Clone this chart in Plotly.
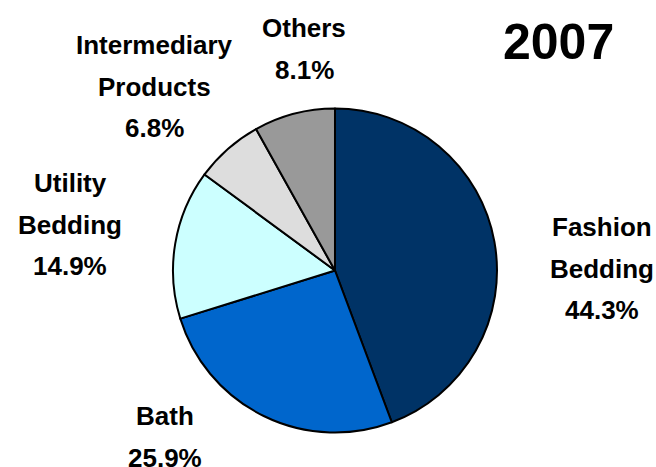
import plotly.graph_objects as go

# Product mix, 2007
categories = ["Fashion Bedding", "Bath", "Utility Bedding", "Intermediary Products", "Others"]
shares = [44.3, 25.9, 14.9, 6.8, 8.1]
colors = ["#003366", "#0066CC", "#CCFFFF", "#DDDDDD", "#999999"]
label_lines = [["Fashion", "Bedding"], ["Bath"], ["Utility", "Bedding"],
               ["Intermediary", "Products"], ["Others"]]
year = "2007"

W, H = 656, 467

fig = go.Figure(go.Pie(
    labels=categories,
    values=shares,
    sort=False,
    direction="clockwise",
    rotation=0,
    textinfo="none",
    hoverinfo="label+percent",
    marker=dict(colors=colors, line=dict(color="black", width=2)),
    domain=dict(x=[0.2637, 0.7576], y=[0.0728, 0.7687]),
    showlegend=False,
))

# label block anchors (pixel centre of first line)
anchors = [(602, 227), (165, 416), (70, 183), (154, 45), (304, 28)]
step = 41.5
font = dict(family="Liberation Sans, Arial, sans-serif", size=26, color="black")

annotations = []
for lines, share, (ax, ay) in zip(label_lines, shares, anchors):
    for i, txt in enumerate(lines + [f"{share:.1f}%"]):
        annotations.append(dict(
            x=ax / W, y=1 - (ay + i * step) / H, xref="paper", yref="paper",
            text=f"<b>{txt}</b>", showarrow=False, font=font,
            xanchor="center", yanchor="middle",
        ))

annotations.append(dict(
    x=558 / W, y=1 - 42 / H, xref="paper", yref="paper",
    text=f"<b>{year}</b>", showarrow=False,
    font=dict(family="Liberation Sans, Arial, sans-serif", size=50, color="black"),
    xanchor="center", yanchor="middle",
))

fig.update_layout(
    width=W, height=H,
    margin=dict(l=0, r=0, t=0, b=0),
    paper_bgcolor="white", plot_bgcolor="white",
    annotations=annotations,
)

fig.write_html("out.html")
